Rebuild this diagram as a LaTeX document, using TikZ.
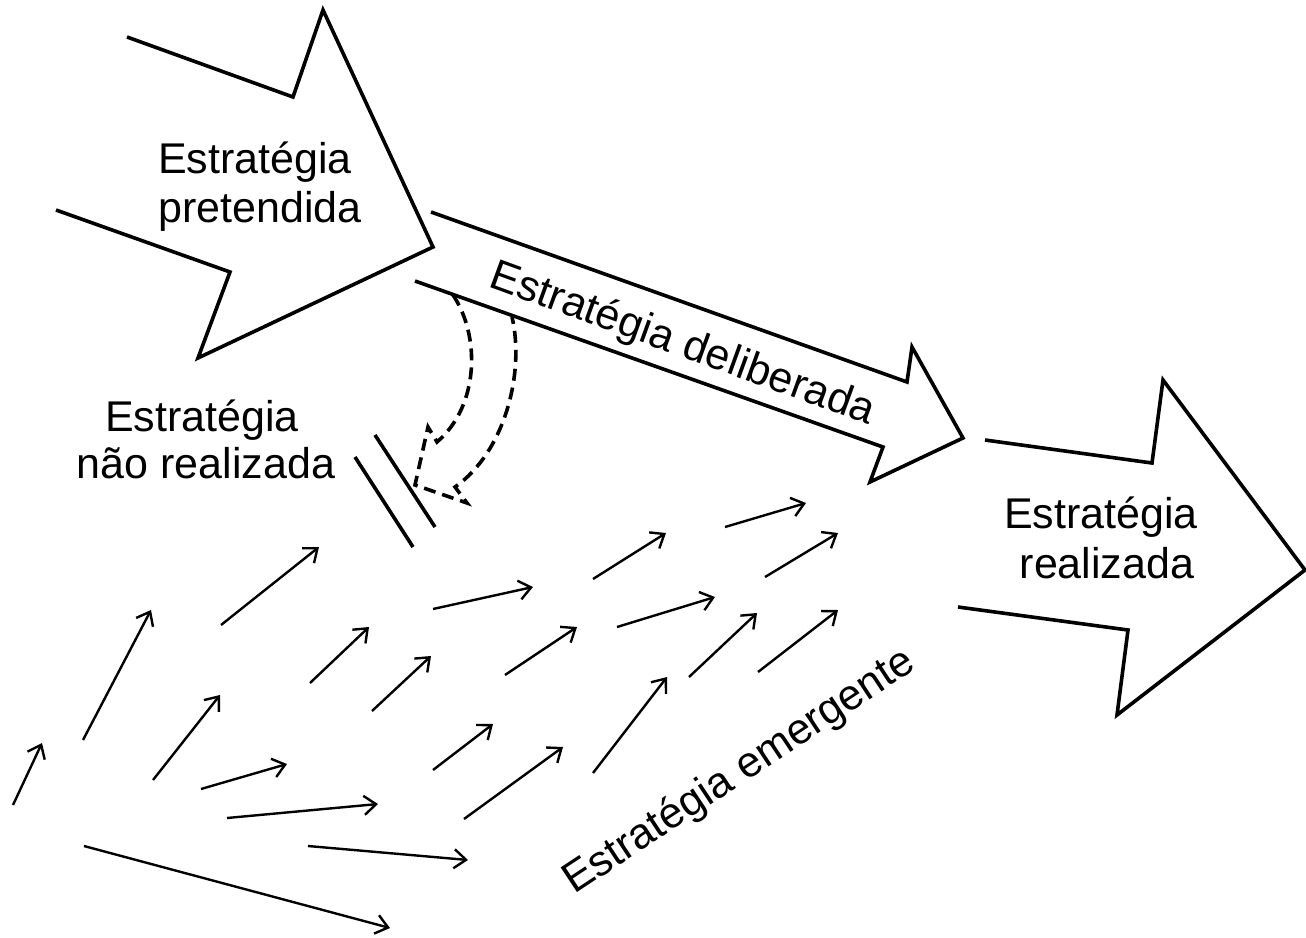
\documentclass[tikz,border=0pt]{standalone}
\usepackage{fontspec}
\setmainfont{Liberation Sans}
\usetikzlibrary{arrows.meta}
\begin{document}
\begin{tikzpicture}[x=1pt,y=-1pt,
  bigarrow/.style={line width=3.6pt, line join=miter},
  thinarrow/.style={line width=2.4pt, -{Straight Barb[length=12pt,width=19pt,line width=2.4pt]}},
  dasharrow/.style={line width=3.6pt, dash pattern=on 12pt off 7pt, line join=miter},
  barline/.style={line width=3.6pt},
  lbl/.style={font=\fontsize{43}{50}\selectfont, inner sep=0pt, anchor=base},
  rlbl/.style={font=\fontsize{43}{50}\selectfont, inner sep=0pt},
]
\useasboundingbox (0,0) rectangle (1306,937);

% big arrow: intended strategy
\draw[bigarrow] (127,37) -- (293,97) -- (323,10) -- (433,247) -- (198,358) -- (230,272) -- (56,210);
% deliberate strategy arrow
\draw[bigarrow] (431,212) -- (907,382) -- (912,347) -- (963,438) -- (870,482) -- (883,447) -- (415,281);
% realized strategy arrow
\draw[bigarrow] (985,440) -- (1152,463) -- (1163,380) -- (1305,570) -- (1117,715) -- (1128,630) -- (958,607);

% labels
\node[lbl] (pret1) at (255,173) {Estratégia};
\node[lbl] (pret2) at (260,222) {pretendida};
\node[lbl] (real1) at (1101,528) {Estratégia};
\node[lbl] (real2) at (1107,578) {realizada};
\node[lbl] (naor1) at (202,431) {Estratégia};
\node[lbl] (naor2) at (206,478) {não realizada};
\node[rlbl, rotate=-20] (delib) at (682,345) {Estratégia deliberada};
\node[rlbl, rotate=33.5] (emerg) at (740,772) {Estratégia emergente};

% dashed curved arrow (unrealized)
\draw[dasharrow] (453,295) .. controls (480,335) and (480,405) .. (437,442)
  -- (428,427) -- (415,485) -- (467,503) -- (455,487)
  .. controls (505,452) and (525,372) .. (512,317);

% blocking double bar
\coordinate (b1a) at (375,435); \coordinate (b1b) at (435,527);
\coordinate (b2a) at (355,457); \coordinate (b2b) at (413,547);
\draw[barline] (b1a) -- (b1b);
\draw[barline] (b2a) -- (b2b);

% emergent small arrows
\foreach \i/\a/\b/\c/\d in {
  1/13/805/42/743, 2/83/740/151/610, 3/221/625/319/547, 4/153/780/220/695,
  5/310/683/369/627, 6/372/711/431/656, 7/433/609/533/587, 8/201/789/287/764,
  9/227/818/378/804, 10/308/846/468/860, 11/84/846/390/928, 12/433/770/493/724,
  13/464/819/563/747, 14/593/579/666/533, 15/725/527/806/503, 16/505/675/577/627,
  17/617/627/715/597, 18/765/577/838/533, 19/593/773/667/677, 20/689/677/757/613,
  21/758/672/838/610}{
  \coordinate (s\i) at (\a,\b);
  \coordinate (e\i) at (\c,\d);
  \draw[thinarrow] (s\i) -- (e\i);
}
\end{tikzpicture}
\end{document}
